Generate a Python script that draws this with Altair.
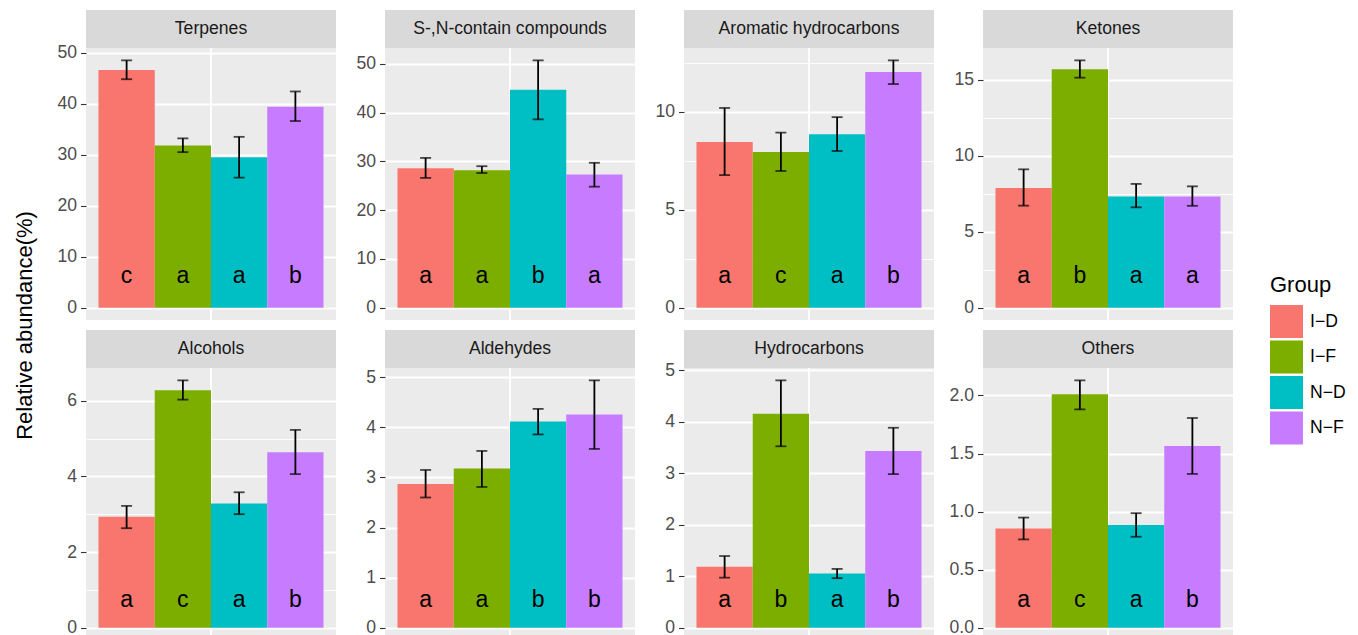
import altair as alt
import pandas as pd

groups = ["I−D", "I−F", "N−D", "N−F"]
colors = ["#F8766D", "#7CAE00", "#00BFC4", "#C77CFF"]
panels = ["Terpenes", "S-,N-contain compounds", "Aromatic hydrocarbons", "Ketones",
          "Alcohols", "Aldehydes", "Hydrocarbons", "Others"]

means = {
    "Terpenes": [46.6, 31.8, 29.5, 39.4],
    "S-,N-contain compounds": [28.6, 28.15, 44.7, 27.3],
    "Aromatic hydrocarbons": [8.46, 7.95, 8.86, 12.03],
    "Ketones": [7.87, 15.68, 7.32, 7.32],
    "Alcohols": [2.93, 6.28, 3.28, 4.64],
    "Aldehydes": [2.87, 3.18, 4.12, 4.26],
    "Hydrocarbons": [1.18, 4.15, 1.05, 3.43],
    "Others": [0.855, 2.01, 0.884, 1.564],
}
lows = {
    "Terpenes": [44.8, 30.5, 25.5, 36.6],
    "S-,N-contain compounds": [26.6, 27.6, 38.6, 24.8],
    "Aromatic hydrocarbons": [6.77, 6.98, 8.0, 11.42],
    "Ketones": [6.71, 15.13, 6.6, 6.7],
    "Alcohols": [2.63, 6.03, 3.0, 4.06],
    "Aldehydes": [2.60, 2.81, 3.86, 3.57],
    "Hydrocarbons": [0.97, 3.52, 0.96, 2.98],
    "Others": [0.76, 1.88, 0.783, 1.324],
}
highs = {
    "Terpenes": [48.5, 33.2, 33.5, 42.4],
    "S-,N-contain compounds": [30.7, 29.0, 50.7, 29.7],
    "Aromatic hydrocarbons": [10.2, 8.94, 9.73, 12.63],
    "Ketones": [9.1, 16.27, 8.14, 7.98],
    "Alcohols": [3.22, 6.54, 3.58, 5.23],
    "Aldehydes": [3.15, 3.53, 4.37, 4.94],
    "Hydrocarbons": [1.39, 4.80, 1.14, 3.88],
    "Others": [0.948, 2.13, 0.986, 1.806],
}
letters = {
    "Terpenes": ["c", "a", "a", "b"],
    "S-,N-contain compounds": ["a", "a", "b", "a"],
    "Aromatic hydrocarbons": ["a", "c", "a", "b"],
    "Ketones": ["a", "b", "a", "a"],
    "Alcohols": ["a", "c", "a", "b"],
    "Aldehydes": ["a", "a", "b", "b"],
    "Hydrocarbons": ["a", "b", "a", "b"],
    "Others": ["a", "c", "a", "b"],
}
major_steps = {
    "Terpenes": 10, "S-,N-contain compounds": 10, "Aromatic hydrocarbons": 5, "Ketones": 5,
    "Alcohols": 2, "Aldehydes": 1, "Hydrocarbons": 1, "Others": 0.5,
}

W, H = 250, 272
STRIP = 38
FONT = "Liberation Sans"


def panel(name, letter_y):
    df = pd.DataFrame({
        "Group": groups,
        "mean": means[name],
        "lo": lows[name],
        "hi": highs[name],
        "letter": letters[name],
    })
    M = max(highs[name])
    dom = [-0.05 * M, 1.05 * M]
    step = major_steps[name]
    vals = []
    k = 0
    while k * step / 2 <= dom[1]:
        vals.append(round(k * step / 2, 4))
        k += 1
    test = f"abs(datum.value / {step} - round(datum.value / {step})) < 1e-6"
    axis_kwargs = dict(
        values=vals,
        title=None,
        labelExpr=f"({test}) ? datum.label : ''",
        gridWidth={"condition": {"test": test, "value": 1.8}, "value": 0.9},
        tickOpacity={"condition": {"test": test, "value": 1}, "value": 0},
    )
    if name == "Others":
        axis_kwargs["format"] = ".1f"
    yscale = alt.Scale(domain=dom, nice=False, zero=False)
    x = alt.X("Group:N", sort=groups,
              scale=alt.Scale(paddingInner=0, paddingOuter=0.222), axis=None)
    base = alt.Chart(df)

    strip_df = pd.DataFrame({"panel": [name]})
    vline = alt.Chart(strip_df).mark_rule(color="white", strokeWidth=1.8).encode(
        x=alt.value(W / 2), y=alt.value(0), y2=alt.value(H))
    bars = base.mark_bar().encode(
        x=x,
        y=alt.Y("mean:Q", scale=yscale, axis=alt.Axis(**axis_kwargs)),
        y2=alt.datum(0),
        color=alt.Color("Group:N", sort=groups,
                        scale=alt.Scale(domain=groups, range=colors),
                        legend=alt.Legend(title="Group")),
    )
    err = base.mark_rule(color="black", strokeWidth=1.8).encode(
        x=x, y=alt.Y("lo:Q", scale=yscale), y2="hi:Q")
    cap_lo = base.mark_tick(color="black", thickness=1.8, size=11).encode(
        x=x, y=alt.Y("lo:Q", scale=yscale))
    cap_hi = base.mark_tick(color="black", thickness=1.8, size=11).encode(
        x=x, y=alt.Y("hi:Q", scale=yscale))
    text = base.mark_text(fontSize=23, font=FONT, color="black", baseline="middle").encode(
        x=x, y=alt.value(letter_y), text="letter:N")
    strip = alt.Chart(strip_df).mark_rect(color="#D9D9D9").encode(
        x=alt.value(0), x2=alt.value(W), y=alt.value(-STRIP), y2=alt.value(0))
    strip_text = alt.Chart(strip_df).mark_text(
        fontSize=17.6, font=FONT, color="#1A1A1A", baseline="middle").encode(
        x=alt.value(W / 2), y=alt.value(-STRIP / 2), text="panel:N")
    return alt.layer(vline, bars, err, cap_lo, cap_hi, text, strip, strip_text).properties(
        width=W, height=H)


row1 = alt.hconcat(*[panel(p, 228) for p in panels[:4]], spacing=49, bounds="flush")
row2 = alt.hconcat(*[panel(p, 232) for p in panels[4:]], spacing=49, bounds="flush")

chart = alt.vconcat(row1, row2, spacing=9, bounds="full").resolve_scale(
    color="shared").resolve_legend(color="shared").properties(
    title=alt.TitleParams(
        text="Relative abundance(%)", orient="left", anchor="middle",
        fontSize=22, fontWeight="normal", font=FONT, color="black", offset=20),
    padding={"left": 5, "top": 2, "right": 0, "bottom": 0},
).configure_view(
    fill="#EBEBEB", strokeWidth=0,
).configure_axis(
    labelColor="#4D4D4D", labelFontSize=17.6, labelFont=FONT,
    tickColor="#333333", tickSize=5.5, tickWidth=1.1, labelPadding=4,
    domain=False, grid=True, gridColor="white",
).configure_legend(
    orient="none", legendX=1184, legendY=227,
    titleFontSize=22, titleFontWeight="normal", titleFont=FONT, titleColor="black",
    labelFontSize=17.6, labelFont=FONT, labelColor="black",
    symbolType="square", symbolSize=1089, symbolStrokeWidth=0, symbolOpacity=1,
    rowPadding=2.5, labelOffset=7, titlePadding=8,
)

chart.save("out.html", embed_options={"renderer": "svg", "actions": False})
